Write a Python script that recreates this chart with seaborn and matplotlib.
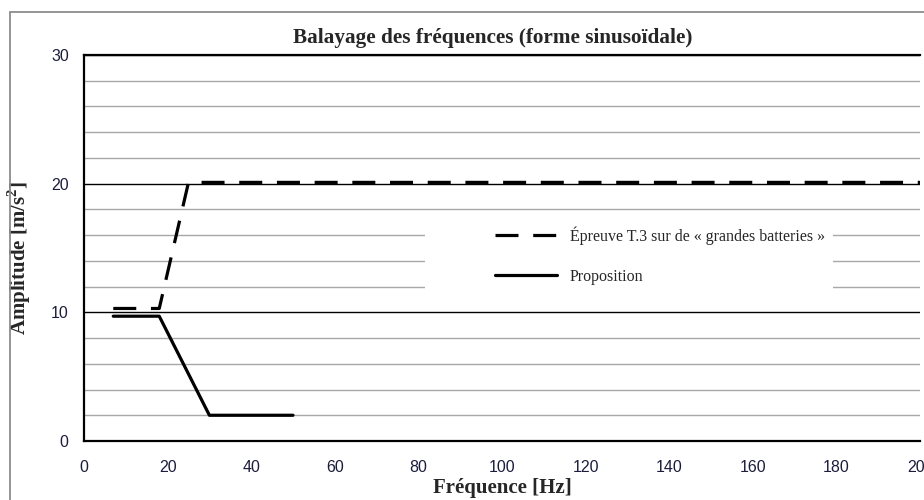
import matplotlib
matplotlib.use("Agg")
import matplotlib.pyplot as plt
import seaborn as sns
from matplotlib.patches import Rectangle

# data
freq_t3 = [7, 18, 25, 200]
amp_t3 = [10.3, 10.3, 20.1, 20.1]
freq_prop = [7, 18, 30, 50]
amp_prop = [9.7, 9.7, 2.0, 2.0]
label_t3 = "Épreuve T.3 sur de « grandes batteries »"
label_prop = "Proposition"
x_ticks = list(range(0, 201, 20))
y_ticks = [0, 10, 20, 30]

sns.set_style("white")
plt.rcParams["font.family"] = ["Liberation Sans", "DejaVu Sans"]
plt.rcParams["mathtext.fontset"] = "custom"
plt.rcParams["mathtext.rm"] = "Liberation Serif"
plt.rcParams["mathtext.bf"] = "Liberation Serif:bold"
serif = ["Liberation Serif", "DejaVu Serif"]
tick_col = "#1c1c3c"

fig = plt.figure(figsize=(9.24, 5.0), dpi=100)
W, H = 924, 500
px, py = 920 - 84, 441 - 55
ax = fig.add_axes([84 / W, (H - 441) / H, px / W, py / H])

# outer chart border
fig.patches.append(Rectangle((10 / W, -0.05), 1.1, (H - 12) / H + 0.05,
                             transform=fig.transFigure, fill=False,
                             edgecolor="#8c8c8c", linewidth=1.3))

sns.lineplot(x=freq_t3, y=amp_t3, ax=ax, color="black", linewidth=2.3,
             linestyle=(0, (7.2, 4.6)), label=label_t3, zorder=3)
sns.lineplot(x=freq_prop, y=amp_prop, ax=ax, color="black", linewidth=2.3,
             label=label_prop, zorder=3)

ax.set_xlim(0, 200)
ax.set_ylim(0, 30)
ax.set_xticks(x_ticks)
ax.set_yticks(y_ticks)
ax.set_yticks(range(0, 31, 2), minor=True)
ax.grid(False)
ax.yaxis.grid(True, which="minor", color="#a8a8a8", linewidth=1.0, zorder=0)
ax.yaxis.grid(True, which="major", color="black", linewidth=1.0, zorder=1)
ax.set_axisbelow(True)

ax.tick_params(axis="y", which="minor", length=0)
ax.tick_params(axis="both", which="major", direction="out", length=4.5,
               width=1.5, color="black", labelsize=11.5, labelcolor=tick_col)
ax.tick_params(axis="y", pad=6.5)
ax.tick_params(axis="x", pad=9.5)

for side in ["left", "bottom", "top"]:
    ax.spines[side].set_color("black")
    ax.spines[side].set_linewidth(1.6)
ax.spines["right"].set_visible(False)

ax.set_title("Balayage des fréquences (forme sinusoïdale)", family=serif,
             fontsize=15.3, fontweight="bold", pad=9, x=(493 - 84) / px)
ax.set_xlabel("Fréquence [Hz]", family=serif, fontsize=15, fontweight="bold",
              labelpad=2)
ax.set_ylabel(r"Amplitude [m/s$^{\mathbf{2}}$]", family=serif, fontsize=15,
              fontweight="bold")
ax.yaxis.set_label_coords((33 - 84) / px, (441 - 258) / py)

# white legend area (Excel style, wider on the left)
ax.add_patch(Rectangle(((425 - 84) / px, (441 - 300) / py), 408 / px, 78 / py,
                       transform=ax.transAxes, facecolor="white",
                       edgecolor="none", zorder=2))

leg = ax.legend(loc="center left",
                bbox_to_anchor=((495 - 84) / px, (441 - 255.5) / py),
                frameon=False, prop={"family": serif, "size": 11.5},
                handlelength=3.9, handletextpad=0.8, labelspacing=1.5,
                borderpad=0, borderaxespad=0)
leg.set_zorder(4)

fig.savefig("out.png", dpi=100)
